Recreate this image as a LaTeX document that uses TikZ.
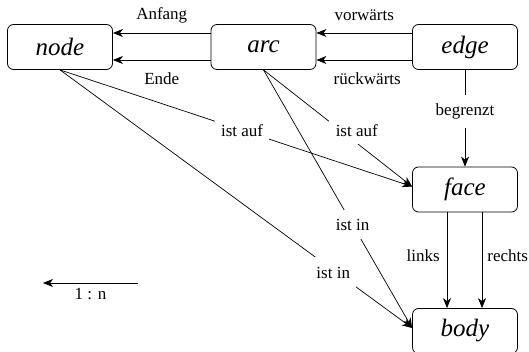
\documentclass[tikz,border=0pt]{standalone}
\usepackage{fontspec}
\setmainfont{Liberation Serif}
\newfontfamily\diagfont{Liberation Serif}
\usetikzlibrary{arrows.meta}
\begin{document}
\begin{tikzpicture}[x=1pt, y=-1pt,
  entity/.style={draw, line width=0.8pt, rounded corners=6pt,
    minimum width=105pt, minimum height=45pt, inner sep=0pt,
    font=\diagfont\fontsize{25}{25}\selectfont\itshape},
  lbl/.style={font=\diagfont\fontsize{17}{18}\selectfont, inner sep=1pt},
  gap/.style={lbl, fill=white},
  rel/.style={line width=0.7pt, -{Stealth[length=10pt, width=8pt, inset=3pt]}}]
\useasboundingbox (0,0) rectangle (529,352);

% entity boxes
\node[entity] (node) at (60,47)    {node};
\node[entity] (arc)  at (263.5,47) {arc};
\node[entity] (edge) at (465,47)   {edge};
\node[entity] (face) at (465,189.5) {face};
\node[entity] (body) at (465,331)  {body};

% arc -> node
\draw[rel] ([yshift=14pt]arc.west) -- node[lbl, yshift=18pt] {Anfang} ([yshift=14pt]node.east);
\draw[rel] ([yshift=-13pt]arc.west) -- node[lbl, yshift=-19pt] {Ende} ([yshift=-13pt]node.east);

% edge -> arc
\draw[rel] ([yshift=14pt]edge.west) -- node[lbl, yshift=18pt] {vorwärts} ([yshift=14pt]arc.east);
\draw[rel] ([yshift=-13pt]edge.west) -- node[lbl, yshift=-19pt, xshift=3pt] {rückwärts} ([yshift=-13pt]arc.east);

% edge -> face
\draw[rel] (edge.south) -- node[gap, pos=0.43, inner xsep=3pt, inner ysep=9pt] {begrenzt} (face.north);

% face -> body
\draw[rel] ([xshift=-18pt]face.south) -- node[lbl, left=6pt, yshift=5pt] {links} ([xshift=-18pt]body.north);
\draw[rel] ([xshift=17pt]face.south) -- node[lbl, right=4pt, yshift=5pt] {rechts} ([xshift=17pt]body.north);

% node/arc -> face
\draw[rel] (node.south) -- node[gap, pos=0.517, inner xsep=6pt, inner ysep=6pt] {ist auf} ([yshift=3pt]face.west);
\draw[rel] (arc.south) -- node[gap, pos=0.52, xshift=16pt, inner xsep=7pt, inner ysep=7pt] {ist auf} ([yshift=3pt]face.west);

% node/arc -> body
\draw[rel] (arc.south) -- node[gap, pos=0.6, inner xsep=1pt, inner ysep=9pt] {ist in} ([yshift=3pt]body.west);
\draw[rel] (node.south) -- node[gap, pos=0.776, yshift=-3pt, inner xsep=6pt, inner ysep=10pt] {ist in} ([yshift=3pt]body.west);

% legend
\coordinate (legA) at (138,283);
\coordinate (legB) at (43,283);
\draw[rel] (legA) -- node[lbl, below=4pt] {1 : n} (legB);
\end{tikzpicture}
\end{document}
